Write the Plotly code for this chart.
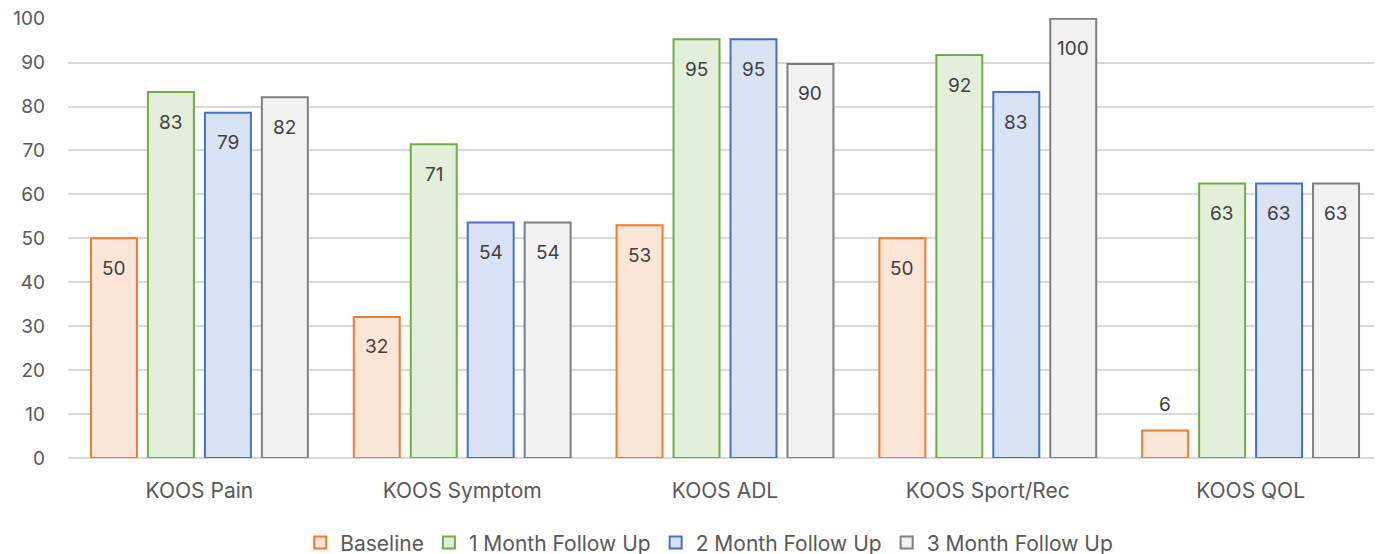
import plotly.graph_objects as go

categories = ["KOOS Pain", "KOOS Symptom", "KOOS ADL", "KOOS Sport/Rec", "KOOS QOL"]
series_names = ["Baseline", "1 Month Follow Up", "2 Month Follow Up", "3 Month Follow Up"]
baseline = [50.0, 32.1, 53.0, 50.0, 6.25]
month1 = [83.3, 71.4, 95.3, 91.7, 62.5]
month2 = [78.6, 53.6, 95.3, 83.3, 62.5]
month3 = [82.1, 53.6, 89.7, 100.0, 62.5]
series_values = [baseline, month1, month2, month3]
value_labels = [
    ["50", "32", "53", "50", "6"],
    ["83", "71", "95", "92", "63"],
    ["79", "54", "95", "83", "63"],
    ["82", "54", "90", "100", "63"],
]
y_ticks = [0, 10, 20, 30, 40, 50, 60, 70, 80, 90, 100]

edge_colors = ["#ED7D31", "#70AD47", "#4472C4", "#7F7F7F"]
fill_colors = ["#FBE5D6", "#E2EFDA", "#DAE3F3", "#F2F2F2"]

W, H = 1382, 554
# page body has an 8px margin, so the figure is offset by 8px right/down
ML, MR, MT, MB = 60, 8, 10, 104
BARGAP = 0.133
GROUPGAP = 0.193
FONT = "Inter"
TXT = "#595959"

fig = go.Figure()
for name, vals, ec, fc in zip(series_names, series_values, edge_colors, fill_colors):
    fig.add_trace(go.Bar(
        x=categories, y=vals, name=name,
        marker=dict(color=fc, line=dict(color=ec, width=2)),
    ))

# data labels (inside end, like the source), positioned per bar slot
plot_w = W - ML - MR
cat_w = plot_w / len(categories)
slot = cat_w * (1 - BARGAP) / len(series_names)
annotations = []
for i, (vals, labs) in enumerate(zip(series_values, value_labels)):
    xs = (i - (len(series_names) - 1) / 2) * slot
    for c, v, lab in zip(categories, vals, labs):
        inside = v >= 10
        annotations.append(dict(
            x=c, y=v, xref="x", yref="y", text=lab,
            showarrow=False, xshift=xs, yshift=-30 if inside else 26,
            yanchor="middle", xanchor="center",
            font=dict(family=FONT, size=19, color="#404040"),
        ))

fig.update_layout(
    width=W, height=H,
    margin=dict(l=ML, r=MR, t=MT, b=MB, autoexpand=False),
    paper_bgcolor="white", plot_bgcolor="white",
    barmode="group", bargap=BARGAP, bargroupgap=GROUPGAP,
    font=dict(family=FONT, size=19, color=TXT),
    annotations=annotations,
    showlegend=True,
    legend=dict(orientation="h", x=0.488, xanchor="center", y=-0.193, yanchor="middle",
                font=dict(family=FONT, size=21, color=TXT),
                traceorder="normal", itemwidth=30),
    xaxis=dict(showgrid=False, showline=False, ticks="", automargin=False,
               ticklabelstandoff=18, tickfont=dict(size=21, color=TXT)),
    yaxis=dict(range=[0, 100.15], tickmode="array", tickvals=y_ticks,
               showgrid=True, gridcolor="#D9D9D9", gridwidth=1.5,
               zeroline=True, zerolinecolor="#D9D9D9", zerolinewidth=1.5,
               showline=False, ticks="", ticklabelstandoff=22, automargin=False,
               ticklabeloverflow="allow",
               tickfont=dict(size=19, color=TXT)),
)

fig.write_html("out.html")
